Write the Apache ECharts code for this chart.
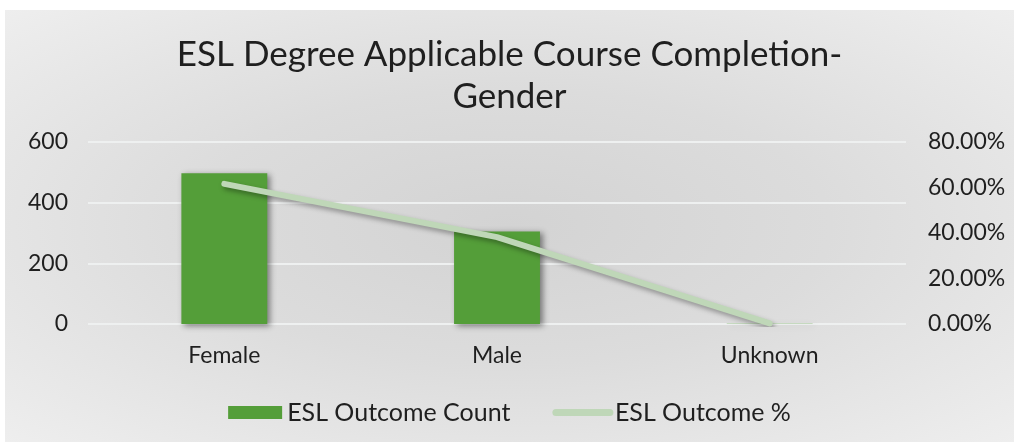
<!DOCTYPE html>
<html>
<head>
<meta charset="utf-8">
<script src="https://cdn.jsdelivr.net/npm/echarts@6/dist/echarts.min.js"></script>
<style>
  body { margin: 0; background: #fff; }
  #chart {
    position: absolute; left: 5px; top: 10px; width: 1009px; height: 432px;
    background: radial-gradient(ellipse at center, #d3d3d3 0%, #dcdcdc 45%, #eeeeee 100%);
  }
</style>
</head>
<body>
<div id="chart"></div>
<script>
// 数据
var categories = ['Female', 'Male', 'Unknown'];
var countValues = [497, 305, 1];
var pctValues = [61.6, 38.2, 0.3];
var leftTicks = [0, 600, 200];
var rightTicks = [0, 80, 20];

var font = 'Lato';
var myChart = echarts.init(document.getElementById('chart'));
var option = {
    textStyle: { fontFamily: font },
    title: {
        text: 'ESL Degree Applicable Course Completion-\nGender',
        left: 'center',
        top: 19,
        textStyle: { fontSize: 35, fontWeight: 'normal', color: '#1f1f1f', lineHeight: 42, fontFamily: font }
    },
    legend: {
        top: 385,
        left: 'center',
        itemWidth: 54,
        itemHeight: 13,
        itemGap: 42,
        textStyle: { fontSize: 25, color: '#1f1f1f', fontFamily: font },
        lineStyle: { width: 7, shadowBlur: 0, shadowColor: 'transparent', shadowOffsetX: 0, shadowOffsetY: 0 },
        data: [
            { name: 'ESL Outcome Count', icon: 'rect' },
            { name: 'ESL Outcome %', itemStyle: { opacity: 0 } }
        ]
    },
    grid: { left: 83, right: 108, top: 132, bottom: 118 },
    xAxis: {
        type: 'category',
        data: categories,
        axisLine: { show: false },
        axisTick: { show: false },
        axisLabel: { fontSize: 23, color: '#1f1f1f', margin: 20 }
    },
    yAxis: [
        {
            type: 'value',
            min: leftTicks[0], max: leftTicks[1], interval: leftTicks[2],
            axisLabel: { fontSize: 23, color: '#1f1f1f', margin: 20 },
            splitLine: { lineStyle: { color: '#eef0f0', width: 2 } }
        },
        {
            type: 'value',
            min: rightTicks[0], max: rightTicks[1], interval: rightTicks[2],
            axisLabel: {
                fontSize: 23, color: '#1f1f1f', margin: 22,
                formatter: function (v) { return v.toFixed(2) + '%'; }
            },
            splitLine: { show: false }
        }
    ],
    series: [
        {
            name: 'ESL Outcome Count',
            type: 'bar',
            barWidth: '31.5%',
            data: countValues,
            itemStyle: {
                color: '#549e39',
                shadowBlur: 6, shadowOffsetX: 3, shadowOffsetY: 2,
                shadowColor: 'rgba(0,0,0,0.45)'
            }
        },
        {
            name: 'ESL Outcome %',
            type: 'line',
            yAxisIndex: 1,
            data: pctValues,
            symbol: 'none',
            itemStyle: { color: '#bfd7b8' },
            lineStyle: {
                color: '#bfd7b8', width: 6, cap: 'round',
                shadowBlur: 5, shadowOffsetX: 2, shadowOffsetY: 3,
                shadowColor: 'rgba(0,0,0,0.35)'
            }
        }
    ]
};
myChart.setOption(option);
</script>
</body>
</html>
